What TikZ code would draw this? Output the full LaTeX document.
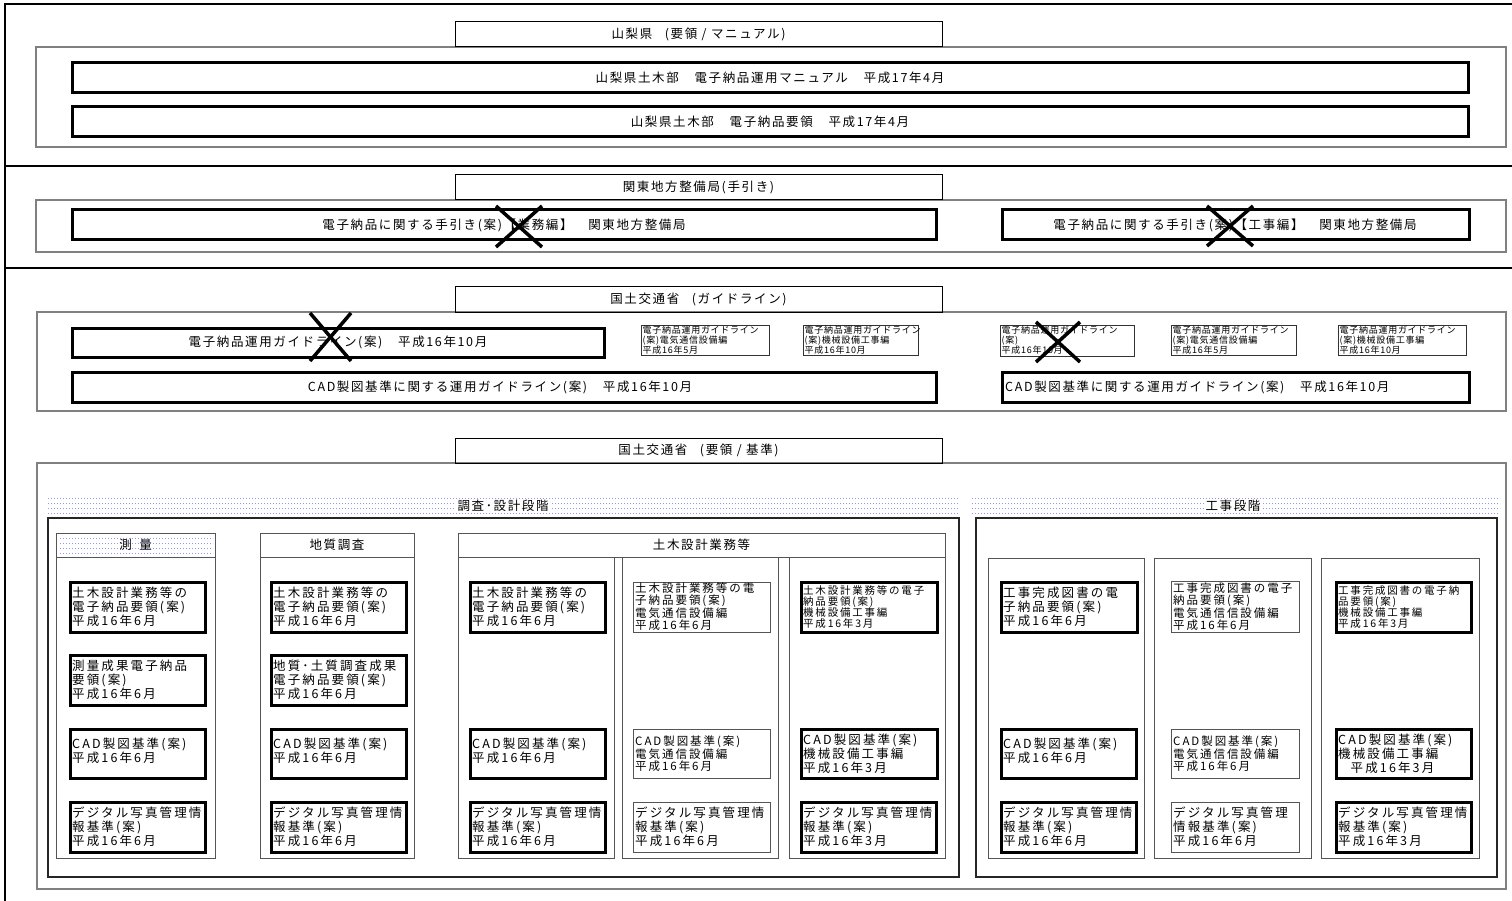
\documentclass[tikz,border=0pt]{standalone}
\usepackage{fontspec}
\setmainfont{Noto Sans CJK JP}
\newfontfamily\jpmain{Noto Sans CJK JP}[LetterSpace=13]
\newfontfamily\jpdoc{Noto Sans CJK JP}[LetterSpace=17]
\newfontfamily\jptiny{Noto Sans CJK JP}[LetterSpace=8]
\usepackage{tikz}
\usetikzlibrary{positioning}
\definecolor{groupgray}{RGB}{128,128,128}
\definecolor{colgray}{RGB}{85,85,85}
\definecolor{dotblue}{RGB}{150,150,235}

\begin{document}
\begin{tikzpicture}[x=1pt,y=-1pt,
  frame/.style={line width=1.6pt},
  group/.style={draw=groupgray,line width=1.2pt},
  header/.style={draw=black,line width=1pt},
  heavy/.style={draw=black,line width=3pt},
  tinybox/.style={draw=black!80,line width=0.9pt},
  phase/.style={draw=black!85,line width=1.2pt},
  column/.style={draw=colgray,line width=1pt},
  thinbox/.style={draw=colgray,line width=1pt},
  dotline/.style={draw=dotblue,line width=0.8pt,dash pattern=on 0.8pt off 2.2pt},
  cross/.style={line width=3.5pt},
  maintext/.style={font=\jpmain\fontsize{12.5}{14}\selectfont,inner sep=0pt},
  bandtext/.style={font=\jpmain\fontsize{12.5}{14}\selectfont,fill=white,inner sep=1.5pt},
  doctext/.style={font=\jpdoc\fontsize{12.5}{14.2}\selectfont,align=left,anchor=west,inner sep=0pt},
  docmid/.style={doctext,font=\jpdoc\fontsize{11.5}{11.9}\selectfont},
  docsmall/.style={doctext,font=\jpdoc\fontsize{10.5}{10.8}\selectfont},
  tinytext/.style={font=\jptiny\fontsize{9}{10}\selectfont,align=left,anchor=west,inner sep=0pt}]
\useasboundingbox (0,0) rectangle (1512,901);

% Frame and separators
\draw[frame] (5,901) -- (5,4) -- (1512,4);
\draw[frame] (5,166) -- (1512,166);
\draw[frame] (5,268) -- (1512,268);

% Yamanashi
\draw[group] (36,47) rectangle (1506,147);
\draw[header] (455,22) rectangle (942,47);
\node[maintext] (yamanashi) at (698.5,34.5) {山梨県\quad(要領 / マニュアル)};
\draw[heavy] (72,63) rectangle (1468,93);
\node[maintext] (ymanual) at (770,78) {山梨県土木部　電子納品運用マニュアル　平成17年4月};
\draw[heavy] (72,107) rectangle (1468,137);
\node[maintext] (yyoryo) at (770,122) {山梨県土木部　電子納品要領　平成17年4月};

% Kanto
\draw[group] (36,200) rectangle (1506,252);
\draw[header] (455,175) rectangle (942,200);
\node[maintext] (kanto) at (698.5,187.5) {関東地方整備局(手引き)};
\draw[heavy] (72,210) rectangle (936,240);
\node[maintext] (kgyomu) at (504,225) {電子納品に関する手引き(案)【業務編】　関東地方整備局};
\draw[heavy] (1002,210) rectangle (1469,240);
\node[maintext] (kkoji) at (1235,225) {電子納品に関する手引き(案)【工事編】　関東地方整備局};
\draw[cross] (496,206) -- (542,247);
\draw[cross] (542,206) -- (496,247);
\draw[cross] (1207,206) -- (1253,246);
\draw[cross] (1253,206) -- (1207,246);

% MLIT guidelines
\draw[group] (37,312) rectangle (1506,411);
\draw[header] (455,287) rectangle (942,312);
\node[maintext] (mguide) at (698.5,299.5) {国土交通省\quad(ガイドライン)};
\draw[heavy] (72,328) rectangle (604,357);
\node[maintext] (gunyo) at (338,342.5) {電子納品運用ガイドライン(案)　平成16年10月};
\draw[cross] (310,313) -- (351,361);
\draw[cross] (351,313) -- (310,361);
\draw[tinybox] (641,325) rectangle (769,355);
\node[tinytext] (gdenki) at (642.5,340) {電子納品運用ガイドライン\\(案)電気通信設備編\\平成16年5月};
\draw[tinybox] (803,325) rectangle (918,355);
\node[tinytext] (gkikai) at (804.5,340) {電子納品運用ガイドライン\\(案)機械設備工事編\\平成16年10月};
\draw[tinybox] (1000,325) rectangle (1134,356);
\node[tinytext] (kunyo) at (1001.5,340.5) {電子納品運用ガイドライン\\(案)\\平成16年10月};
\draw[cross] (1036,322) -- (1080,362);
\draw[cross] (1080,322) -- (1036,362);
\draw[tinybox] (1171,325) rectangle (1296,355);
\node[tinytext] (kdenki) at (1172.5,340) {電子納品運用ガイドライン\\(案)電気通信設備編\\平成16年5月};
\draw[tinybox] (1338,325) rectangle (1466,355);
\node[tinytext] (kkikai) at (1339.5,340) {電子納品運用ガイドライン\\(案)機械設備工事編\\平成16年10月};
\draw[heavy] (72,372) rectangle (936,402);
\node[maintext] (gcad) at (500,387) {CAD製図基準に関する運用ガイドライン(案)　平成16年10月};
\draw[heavy] (1002,372) rectangle (1469,402);
\node[maintext,anchor=west] (kcad) at (1005,387) {CAD製図基準に関する運用ガイドライン(案)　平成16年10月};

% MLIT rules
\draw[group] (37,463) rectangle (1506,889);
\draw[header] (455,438) rectangle (942,463);
\node[maintext] (mrule) at (698.5,450.5) {国土交通省\quad(要領 / 基準)};

% Phase bands
\foreach \y in {498,503,508,513} {
  \draw[dotline] (48,\y) -- (958,\y);
  \draw[dotline] (972,\y) -- (1500,\y);
}
\node[bandtext] (design) at (503,506) {調査･設計段階};
\node[bandtext] (works) at (1233,506) {工事段階};
\draw[phase] (48,518) rectangle (959,877);
\draw[phase] (976,518) rectangle (1497,877);

% Columns
\draw[column] (56,533) rectangle (215,858);
\draw[column] (56,557) -- (215,557);
\foreach \y in {538,543,548,553}
  \draw[dotline] (60,\y) -- (213,\y);
\node[maintext] (survey) at (135.5,545) {測\hspace{0.6em}量};
\draw[column] (260,533) rectangle (414,858);
\draw[column] (260,557) -- (414,557);
\node[maintext] (geology) at (337,545) {地質調査};
\draw[column] (458,533) rectangle (945,557);
\node[maintext] (civil) at (701.5,545) {土木設計業務等};
\foreach \a/\b in {458/614,622/778,789/945}
  \draw[column] (\a,557) rectangle (\b,858);
\foreach \a/\b in {988/1144,1154/1311,1321/1479}
  \draw[column] (\a,558) rectangle (\b,858);

% Row 1
\foreach \x/\n in {70/ra,271/rb,470/rc} {
  \draw[heavy] (\x,582) rectangle (\x+135,632);
  \node[doctext] (\n) at (\x+2,607) {土木設計業務等の\\電子納品要領(案)\\平成16年6月};
}
\draw[thinbox] (633,582) rectangle (770,632);
\node[docmid] (rd) at (635,607) {土木設計業務等の電\\子納品要領(案)\\電気通信設備編\\平成16年6月};
\draw[heavy] (801,582) rectangle (937,632);
\node[docsmall] (re) at (803,607) {土木設計業務等の電子\\納品要領(案)\\機械設備工事編\\平成16年3月};
\draw[heavy] (1001,582) rectangle (1137,632);
\node[doctext] (rf) at (1003,607) {工事完成図書の電\\子納品要領(案)\\平成16年6月};
\draw[thinbox] (1171,581) rectangle (1299,632);
\node[docmid] (rg) at (1173,606.5) {工事完成図書の電子\\納品要領(案)\\電気通信信設備編\\平成16年6月};
\draw[heavy] (1336,582) rectangle (1471,632);
\node[docsmall] (rh) at (1338,607) {工事完成図書の電子納\\品要領(案)\\機械設備工事編\\平成16年3月};

% Row 2
\draw[heavy] (70,655) rectangle (205,705);
\node[doctext] (sa) at (72,680) {測量成果電子納品\\要領(案)\\平成16年6月};
\draw[heavy] (271,655) rectangle (406,705);
\node[doctext] (sb) at (273,680) {地質･土質調査成果\\電子納品要領(案)\\平成16年6月};

% Row 3
\foreach \x/\n in {70/ca,271/cb,470/cc,1001/cf} {
  \draw[heavy] (\x,729) rectangle (\x+135,778);
  \node[doctext] (\n) at (\x+2,751) {CAD製図基準(案)\\平成16年6月};
}
\draw[thinbox] (633,729) rectangle (770,778);
\node[docmid] (cd) at (635,753.5) {CAD製図基準(案)\\電気通信設備編\\平成16年6月};
\draw[heavy] (801,729) rectangle (937,778);
\node[doctext] (ce) at (803,753.5) {CAD製図基準(案)\\機械設備工事編\\平成16年3月};
\draw[thinbox] (1171,729) rectangle (1299,778);
\node[docmid] (cg) at (1173,753.5) {CAD製図基準(案)\\電気通信信設備編\\平成16年6月};
\draw[heavy] (1336,729) rectangle (1471,778);
\node[doctext] (ch) at (1338,753.5) {CAD製図基準(案)\\機械設備工事編\\\hspace{1em}平成16年3月};

% Row 4
\foreach \x/\n/\m in {70/pa/6,271/pb/6,470/pc/6,801/pe/3,1001/pf/6,1336/ph/3} {
  \draw[heavy] (\x,802) rectangle (\x+135,852);
  \node[doctext] (\n) at (\x+2,827) {デジタル写真管理情\\報基準(案)\\平成16年\m 月};
}
\draw[thinbox] (633,802) rectangle (770,852);
\node[doctext] (pd) at (635,827) {デジタル写真管理情\\報基準(案)\\平成16年6月};
\draw[thinbox] (1171,802) rectangle (1299,852);
\node[doctext] (pg) at (1173,827) {デジタル写真管理\\情報基準(案)\\平成16年6月};
\end{tikzpicture}
\end{document}
